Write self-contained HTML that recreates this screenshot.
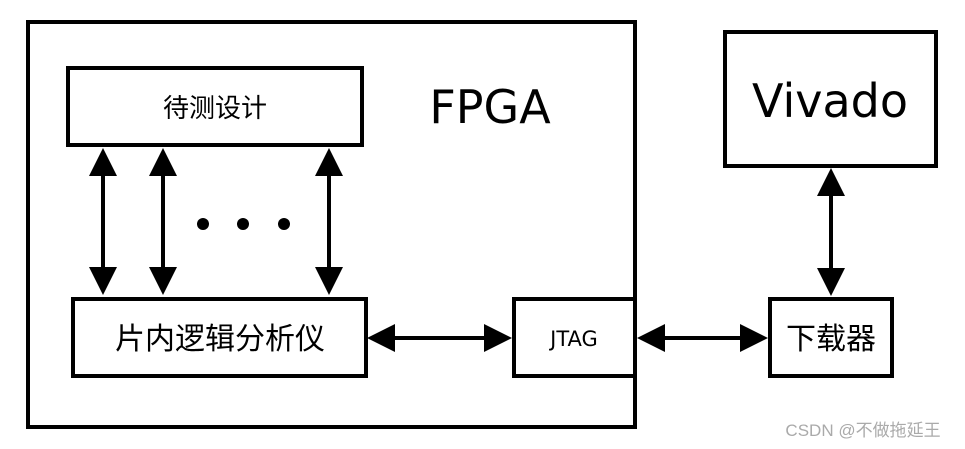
<!DOCTYPE html>
<html><head><meta charset="utf-8"><style>body{margin:0;background:#fff}</style></head><body>
<svg width="965" height="449" viewBox="0 0 965 449" xmlns="http://www.w3.org/2000/svg" style="display:block">
<defs>
<marker id="a" markerWidth="8" markerHeight="8" refX="7" refY="4" orient="auto-start-reverse" markerUnits="userSpaceOnUse" viewBox="0 0 8 8">
</marker>
</defs>
<g fill="none" stroke="#000" stroke-width="4">
<rect x="28" y="22" width="607" height="405"/>
<rect x="68" y="68" width="294" height="77"/>
<rect x="73" y="299" width="293" height="77"/>
<rect x="514" y="299" width="121" height="77"/>
<rect x="770" y="299" width="122" height="77"/>
<rect x="725" y="32" width="211" height="134"/>
<line x1="103" y1="170" x2="103" y2="272"/>
<line x1="163" y1="170" x2="163" y2="272"/>
<line x1="329" y1="170" x2="329" y2="272"/>
<line x1="831" y1="190" x2="831" y2="272"/>
<line x1="392" y1="338" x2="485" y2="338"/>
<line x1="662" y1="338" x2="742" y2="338"/>
</g>
<g fill="#000">
<path d="M103 148 L89 176 L117 176 Z M103 295 L89 267 L117 267 Z"/>
<path d="M163 148 L149 176 L177 176 Z M163 295 L149 267 L177 267 Z"/>
<path d="M329 148 L315 176 L343 176 Z M329 295 L315 267 L343 267 Z"/>
<path d="M831 168 L817 196 L845 196 Z M831 296 L817 268 L845 268 Z"/>
<path d="M367 338 L395 324 L395 352 Z M512 338 L484 324 L484 352 Z"/>
<path d="M637 338 L665 324 L665 352 Z M768 338 L740 324 L740 352 Z"/>
<circle cx="203" cy="224" r="6"/><circle cx="243" cy="224" r="6"/><circle cx="284" cy="224" r="6"/>
</g>
<g font-family="'DejaVu Sans','Noto Sans CJK SC',sans-serif" fill="#000" text-anchor="middle">
<text x="215" y="117" font-size="26">待测设计</text>
<text x="220" y="349" font-size="30">片内逻辑分析仪</text>
<text x="490" y="123" font-size="46">FPGA</text>
<text x="574" y="346" font-size="21">JTAG</text>
<text x="831" y="349" font-size="30">下载器</text>
<text x="830" y="117" font-size="46">Vivado</text>
</g>
<text x="863" y="436" font-family="'Liberation Sans','Noto Sans CJK SC',sans-serif" font-size="17" fill="#aaa" text-anchor="middle">CSDN @不做拖延王</text>
</svg>
</body></html>
